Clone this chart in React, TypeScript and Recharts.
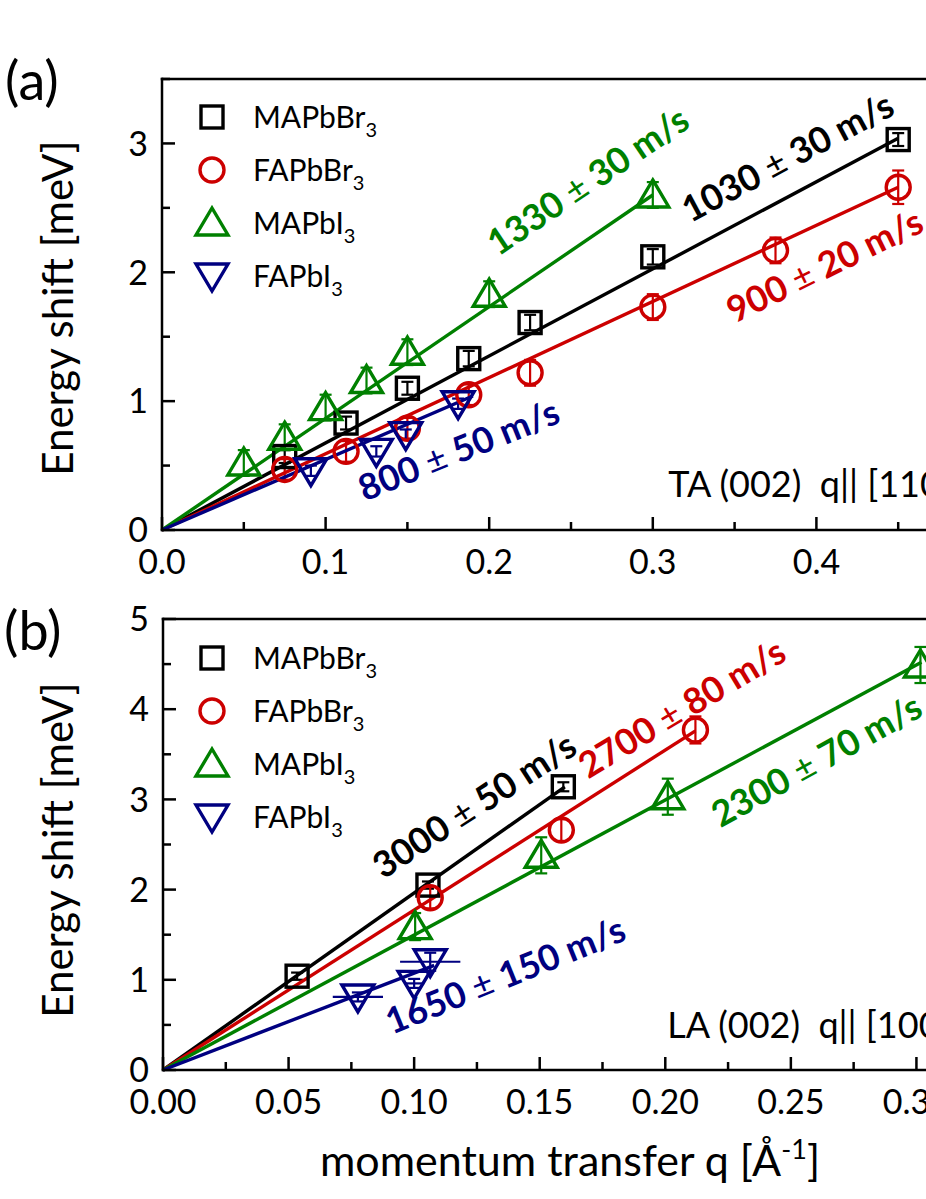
import React from 'react';
import { ScatterChart, Scatter, XAxis, YAxis, ErrorBar, ReferenceDot } from 'recharts';

const FONT = 'Lato, "Open Sans", sans-serif';
const BLACK = '#000000';
const RED = '#cc0000';
const GREEN = '#008000';
const BLUE = '#000080';
const AXIS = { stroke: '#000', strokeWidth: 2.5, strokeLinecap: 'square' as const };

// series names (subscript 3 added when drawn)
const seriesNames = ['MAPbBr', 'FAPbBr', 'MAPbI', 'FAPbI'];
const seriesColors = [BLACK, RED, GREEN, BLUE];

// ---- panel (a): TA (002) q || [110]
const qA_MAPbBr3 = [0.075, 0.1125, 0.15, 0.1875, 0.225, 0.3, 0.45];
const eA_MAPbBr3 = [0.57, 0.83, 1.1, 1.33, 1.61, 2.12, 3.03];
const errA_MAPbBr3 = [0.05, 0.05, 0.05, 0.06, 0.06, 0.06, 0.05];

const qA_FAPbBr3 = [0.075, 0.1125, 0.15, 0.1875, 0.225, 0.3, 0.375, 0.45];
const eA_FAPbBr3 = [0.47, 0.61, 0.79, 1.05, 1.22, 1.73, 2.17, 2.66];
const errA_FAPbBr3 = [0.08, 0.08, 0.08, 0.08, 0.1, 0.1, 0.1, 0.13];

const qA_MAPbI3 = [0.05, 0.075, 0.1, 0.125, 0.15, 0.2, 0.3];
const eA_MAPbI3 = [0.52, 0.72, 0.95, 1.16, 1.38, 1.83, 2.6];
const errA_MAPbI3 = [0.1, 0.1, 0.1, 0.1, 0.1, 0.1, 0.1];

const qA_FAPbI3 = [0.091, 0.131, 0.149, 0.181];
const eA_FAPbI3 = [0.46, 0.61, 0.74, 0.98];
const errA_FAPbI3 = [0.04, 0.04, 0.04, 0.04];

// linear fits through the origin: end point of each line
const fitEndQ_A = [0.45, 0.45, 0.3, 0.19];
const fitEndE_A = [3.04, 2.66, 2.6, 1.04];

// ---- panel (b): LA (002) q || [100]
const qB_MAPbBr3 = [0.0534, 0.1055, 0.1594];
const eB_MAPbBr3 = [1.04, 2.05, 3.14];
const errB_MAPbBr3 = [0.04, 0.04, 0.05];

const qB_FAPbBr3 = [0.1064, 0.1586, 0.212];
const eB_FAPbBr3 = [1.91, 2.66, 3.77];
const errB_FAPbBr3 = [0.12, 0.12, 0.15];

const qB_MAPbI3 = [0.1004, 0.1506, 0.201, 0.3016];
const eB_MAPbI3 = [1.59, 2.38, 3.03, 4.49];
const errB_MAPbI3 = [0.15, 0.2, 0.2, 0.2];

const qB_FAPbI3 = [0.0776, 0.1, 0.1064];
const eB_FAPbI3 = [0.81, 0.96, 1.2];
const errB_FAPbI3 = [0.05, 0.05, 0.1];
const xerrB_FAPbI3 = [0.01, 0.004, 0.012];

const fitEndQ_B = [0.16, 0.212, 0.302, 0.108];
const fitEndE_B = [3.14, 3.76, 4.52, 1.16];

// axis ticks
const xTicksA = [0, 0.05, 0.1, 0.15, 0.2, 0.25, 0.3, 0.35, 0.4, 0.45, 0.5];
const xLabelsA = [0, 0.1, 0.2, 0.3, 0.4, 0.5];
const yTicksA = [0, 0.5, 1, 1.5, 2, 2.5, 3, 3.5];
const xTicksB = [0, 0.025, 0.05, 0.075, 0.1, 0.125, 0.15, 0.175, 0.2, 0.225, 0.25, 0.275, 0.3, 0.325, 0.35];
const xLabelsB = [0, 0.05, 0.1, 0.15, 0.2, 0.25, 0.3, 0.35];
const yTicksB = [0, 0.5, 1, 1.5, 2, 2.5, 3, 3.5, 4, 4.5, 5];
const yLabels = [0, 1, 2, 3, 4, 5];

const annotA = [
  { text: '1330', err: '30', q: 0.2055, e: 2.12, angle: -34, color: GREEN },
  { text: '1030', err: '30', q: 0.323, e: 2.38, angle: -28, color: BLACK },
  { text: '900', err: '20', q: 0.35, e: 1.6, angle: -26, color: RED },
  { text: '800', err: '50', q: 0.124, e: 0.22, angle: -22, color: BLUE },
];
const annotB = [
  { text: '3000', err: '50', q: 0.0877, e: 2.11, angle: -33, color: BLACK },
  { text: '2700', err: '80', q: 0.1693, e: 3.22, angle: -31, color: RED },
  { text: '2300', err: '70', q: 0.222, e: 2.68, angle: -29, color: GREEN },
  { text: '1650', err: '150', q: 0.0912, e: 0.39, angle: -22, color: BLUE },
];

const pts = (q: number[], e: number[], err: number[], xerr?: number[]) =>
  q.map((v, i) => ({ q: v, e: e[i], err: err[i], xerr: xerr ? xerr[i] : 0 }));
const fit = (q: number, e: number) => [{ q: 0, e: 0 }, { q, e }];
const near = (v: number, list: number[]) => list.some((l) => Math.abs(l - v) < 1e-6);

// ---- markers
const Marker = ({ kind, cx, cy, color }: any) => {
  const sw = 3.4;
  if (kind === 0) return <rect x={cx - 11} y={cy - 11} width={22} height={22} fill="none" stroke={color} strokeWidth={sw} />;
  if (kind === 1) return <circle cx={cx} cy={cy} r={12} fill="none" stroke={color} strokeWidth={sw} />;
  if (kind === 2)
    return <polygon points={`${cx},${cy - 15} ${cx + 16},${cy + 12} ${cx - 16},${cy + 12}`} fill="none" stroke={color} strokeWidth={sw} />;
  return <polygon points={`${cx - 16},${cy - 12} ${cx + 16},${cy - 12} ${cx},${cy + 15}`} fill="none" stroke={color} strokeWidth={sw} />;
};

// ---- ticks (inward)
const YTick = ({ x, y, payload }: any) => {
  const major = near(payload.value, yLabels);
  return (
    <g>
      <line x1={x} x2={x + (major ? 13 : 8)} y1={y} y2={y} stroke="#000" strokeWidth={2.5} />
      {major && (
        <text x={x - 14} y={y} dy="0.36em" textAnchor="end" fontFamily={FONT} fontSize={34} fill="#000">
          {payload.value}
        </text>
      )}
    </g>
  );
};

const makeXTick = (labels: number[], digits: number) => ({ x, y, payload }: any) => {
  const major = near(payload.value, labels);
  return (
    <g>
      <line x1={x} x2={x} y1={y} y2={y - (major ? 13 : 8)} stroke="#000" strokeWidth={2.5} />
      {major && (
        <text x={x} y={y + 44} textAnchor="middle" fontFamily={FONT} fontSize={34} fill="#000">
          {payload.value.toFixed(digits)}
        </text>
      )}
    </g>
  );
};

const makeTopTick = (labels: number[]) => ({ x, y, payload }: any) => {
  const major = near(payload.value, labels);
  return <line x1={x} x2={x} y1={y} y2={y + (major ? 13 : 8)} stroke="#000" strokeWidth={2.5} />;
};

const Annotation = ({ cx, cy, a }: any) => (
  <text
    x={cx}
    y={cy}
    transform={`rotate(${a.angle} ${cx} ${cy})`}
    fontFamily={FONT}
    fontSize={36}
    fontWeight={700}
    fill={a.color}
    style={{ whiteSpace: 'pre' }}
  >
    {a.text + ' '}
    <tspan fontWeight={400}>±</tspan>
    {' ' + a.err + ' m/s'}
  </text>
);

const ModeLabel = ({ cx, cy, text }: any) => (
  <text x={cx} y={cy} fontFamily={FONT} fontSize={36} fill="#000" style={{ whiteSpace: 'pre' }}>
    {text}
  </text>
);

const Legend = ({ top }: { top: number }) => (
  <svg width={500} height={230} style={{ position: 'absolute', left: 0, top }}>
    {seriesNames.map((n, i) => {
      const y = 38 + i * 53;
      return (
        <g key={n}>
          <Marker kind={i} cx={212} cy={y} color={seriesColors[i]} />
          <text x={253} y={y + 11} fontFamily={FONT} fontSize={30} fill="#000">
            {n}
            <tspan dy={9} fontSize={20}>3</tspan>
          </text>
        </g>
      );
    })}
  </svg>
);

type PanelProps = {
  top: number;
  width: number;
  yAxisWidth: number;
  xDomain: [number, number];
  xTicks: number[];
  xLabels: number[];
  digits: number;
  yDomain: [number, number];
  yTicks: number[];
  series: { q: number; e: number; err: number; xerr: number }[][];
  fits: { q: number; e: number }[][];
  annots: typeof annotA;
  mode: { text: string; q: number; e: number };
  marginTop: number;
};

const Panel = (p: PanelProps) => {
  const XTick = makeXTick(p.xLabels, p.digits);
  const TopTick = makeTopTick(p.xLabels);
  return (
    <div style={{ position: 'absolute', left: 0, top: p.top }}>
      <ScatterChart width={p.width} height={p.marginTop + 30 + 451 + 60} margin={{ top: p.marginTop, right: 0, bottom: 0, left: 0 }}>
        <XAxis
          type="number"
          dataKey="q"
          domain={p.xDomain}
          ticks={p.xTicks}
          interval={0}
          height={60}
          tickSize={0}
          tickMargin={0}
          axisLine={AXIS}
          tickLine={false}
          tick={XTick}
        />
        <XAxis
          xAxisId="top"
          orientation="top"
          type="number"
          dataKey="q"
          domain={p.xDomain}
          ticks={p.xTicks}
          interval={0}
          height={30}
          tickSize={0}
          tickMargin={0}
          axisLine={AXIS}
          tickLine={false}
          tick={TopTick}
        />
        <YAxis
          type="number"
          dataKey="e"
          domain={p.yDomain}
          ticks={p.yTicks}
          interval={0}
          width={p.yAxisWidth}
          tickSize={0}
          tickMargin={0}
          axisLine={AXIS}
          tickLine={false}
          tick={YTick}
        />
        {p.fits.map((f, i) => (
          <Scatter
            key={'fit' + i}
            data={f}
            line={{ stroke: seriesColors[i], strokeWidth: 3.4 }}
            shape={() => <g />}
            isAnimationActive={false}
          />
        ))}
        {p.series.map((s, i) => (
          <Scatter
            key={'s' + i}
            data={s}
            shape={(props: any) => <Marker kind={i} cx={props.cx} cy={props.cy} color={seriesColors[i]} />}
            isAnimationActive={false}
          >
            <ErrorBar dataKey="err" direction="y" width={6} stroke={seriesColors[i]} strokeWidth={2.2} />
            {i === 3 && <ErrorBar dataKey="xerr" direction="x" width={0} stroke={seriesColors[i]} strokeWidth={2.2} />}
          </Scatter>
        ))}
        {p.annots.map((a, i) => (
          <ReferenceDot key={'a' + i} x={a.q} y={a.e} r={0} shape={(props: any) => <Annotation cx={props.cx} cy={props.cy} a={a} />} />
        ))}
        <ReferenceDot x={p.mode.q} y={p.mode.e} r={0} shape={(props: any) => <ModeLabel cx={props.cx} cy={props.cy} text={p.mode.text} />} />
      </ScatterChart>
    </div>
  );
};

export default function App() {
  const seriesA = [
    pts(qA_MAPbBr3, eA_MAPbBr3, errA_MAPbBr3),
    pts(qA_FAPbBr3, eA_FAPbBr3, errA_FAPbBr3),
    pts(qA_MAPbI3, eA_MAPbI3, errA_MAPbI3),
    pts(qA_FAPbI3, eA_FAPbI3, errA_FAPbI3),
  ];
  const seriesB = [
    pts(qB_MAPbBr3, eB_MAPbBr3, errB_MAPbBr3),
    pts(qB_FAPbBr3, eB_FAPbBr3, errB_FAPbBr3),
    pts(qB_MAPbI3, eB_MAPbI3, errB_MAPbI3),
    pts(qB_FAPbI3, eB_FAPbI3, errB_FAPbI3, xerrB_FAPbI3),
  ];
  const fitsA = fitEndQ_A.map((q, i) => fit(q, fitEndE_A[i]));
  const fitsB = fitEndQ_B.map((q, i) => fit(q, fitEndE_B[i]));

  return (
    <div style={{ position: 'absolute', left: 0, top: 0, width: 926, height: 1199, overflow: 'hidden', background: '#fff' }}>
      <Panel
        top={0}
        width={980}
        yAxisWidth={162}
        marginTop={49}
        xDomain={[0, 0.5]}
        xTicks={xTicksA}
        xLabels={xLabelsA}
        digits={1}
        yDomain={[0, 3.5]}
        yTicks={yTicksA}
        series={seriesA}
        fits={fitsA}
        annots={annotA}
        mode={{ text: 'TA (002)  q|| [110]', q: 0.3095, e: 0.256 }}
      />
      <Panel
        top={560}
        width={1042}
        yAxisWidth={163}
        marginTop={29}
        xDomain={[0, 0.35]}
        xTicks={xTicksB}
        xLabels={xLabelsB}
        digits={2}
        yDomain={[0, 5]}
        yTicks={yTicksB}
        series={seriesB}
        fits={fitsB}
        annots={annotB}
        mode={{ text: 'LA (002)  q|| [100]', q: 0.2008, e: 0.355 }}
      />
      <Legend top={79} />
      <Legend top={620} />
      <svg width={926} height={1199} style={{ position: 'absolute', left: 0, top: 0, pointerEvents: 'none' }}>
        <text x={5} y={100} fontFamily={FONT} fontSize={54} fill="#000">(a)</text>
        <text x={4} y={650} fontFamily={FONT} fontSize={54} fill="#000">(b)</text>
        <text transform="translate(73,308) rotate(-90)" textAnchor="middle" fontFamily={FONT} fontSize={42} fill="#000">
          Energy shift [meV]
        </text>
        <text transform="translate(73,850) rotate(-90)" textAnchor="middle" fontFamily={FONT} fontSize={42} fill="#000">
          Energy shift [meV]
        </text>
        <text x={570} y={1176} textAnchor="middle" fontFamily={FONT} fontSize={43} fill="#000">
          momentum transfer q [Å
          <tspan dy={-17} fontSize={27}>-1</tspan>
          <tspan dy={17}>]</tspan>
        </text>
      </svg>
    </div>
  );
}
